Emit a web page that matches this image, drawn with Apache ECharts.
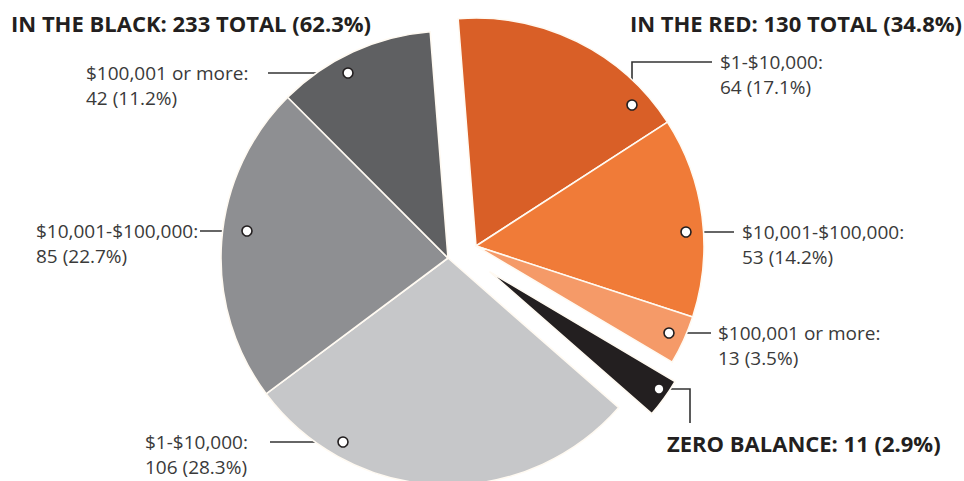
<!DOCTYPE html>
<html><head><meta charset="utf-8">
<script src="https://cdn.jsdelivr.net/npm/echarts@6/dist/echarts.min.js"></script>
<style>html,body{margin:0;padding:0;background:#fff}#c{width:964px;height:481px}</style>
</head><body><div id="c"></div>
<script>
// ---- data ----
const categories = ['$1-$10,000', '$10,001-$100,000', '$100,001 or more', 'ZERO BALANCE', '$1-$10,000', '$10,001-$100,000', '$100,001 or more'];
const sliceGroup = ['red', 'red', 'red', 'zero', 'black', 'black', 'black'];
const values = [64, 53, 13, 11, 106, 85, 42];
const percents = [17.1, 14.2, 3.5, 2.9, 28.3, 22.7, 11.2];
const groupTitles = { black: 'IN THE BLACK', red: 'IN THE RED' };
const groupTotals = { black: 233, red: 130 };
const groupPercents = { black: 62.3, red: 34.8 };

// ---- styles / layout ----
const colors = ['#d95f27', '#f07b38', '#f59a68', '#231f20', '#c6c7c9', '#8e8f92', '#5f6062'];
const groupGeom = {
  black: { center: [448, 258], radius: 227 },
  red: { center: [476, 246], radius: 228 },
  zero: { center: [490, 272], radius: 215 }
};
// label layout: text position, leader points, dot
const labelLayout = [
  { x: 720, y: 62, line: [[712, 62], [632, 62], [632, 100]], dot: [632, 105] },
  { x: 742, y: 232, line: [[734, 232], [691, 232]], dot: [686, 232] },
  { x: 718, y: 333, line: [[711, 333], [674, 333]], dot: [669, 333] },
  { x: 667, y: 443, line: [[664, 389], [690, 389], [690, 423]], dot: [659, 389], bold: true },
  { x: 145, y: 442, line: [[270, 442], [338, 442]], dot: [343, 442] },
  { x: 36, y: 231, line: [[200, 231], [242, 231]], dot: [247, 231] },
  { x: 86, y: 73, line: [[268, 73], [343, 73]], dot: [348, 73] }
];

const fontFamily = '"Open Sans", "Noto Sans", sans-serif';
const textColor = '#3a3a3a';
const labelFont = `400 19px ${fontFamily}`;
const titleFont = `700 22px ${fontFamily}`;

function makeSeries(group) {
  const g = groupGeom[group];
  return {
    type: 'pie',
    silent: true,
    center: g.center,
    radius: [0, g.radius],
    startAngle: 94.5,
    clockwise: true,
    animation: false,
    label: { show: false },
    labelLine: { show: false },
    emphasis: { disabled: true },
    data: values.map((v, i) => {
      const on = sliceGroup[i] === group;
      return {
        value: v,
        name: categories[i],
        itemStyle: on
          ? { color: colors[i], borderColor: '#fffaf2', borderWidth: 1.6 }
          : { color: 'rgba(0,0,0,0)', borderWidth: 0 }
      };
    })
  };
}

const graphics = [];
graphics.push({
  type: 'text', silent: true,
  style: { text: `${groupTitles.black}: ${groupTotals.black} TOTAL (${groupPercents.black}%)`, x: 11, y: 23,
    textVerticalAlign: 'middle', fill: '#231f20', font: titleFont }
});
graphics.push({
  type: 'text', silent: true,
  style: { text: `${groupTitles.red}: ${groupTotals.red} TOTAL (${groupPercents.red}%)`, x: 962, y: 23,
    textAlign: 'right', textVerticalAlign: 'middle', fill: '#231f20', font: titleFont }
});

values.forEach((v, i) => {
  const L = labelLayout[i];
  graphics.push({
    type: 'polyline', silent: true,
    shape: { points: L.line },
    style: { stroke: '#333', lineWidth: 1.6, fill: null }
  });
  graphics.push({
    type: 'circle', silent: true, z: 10,
    shape: { cx: L.dot[0], cy: L.dot[1], r: 5 },
    style: { fill: '#fff', stroke: '#231f20', lineWidth: 1.6 }
  });
  if (L.bold) {
    graphics.push({
      type: 'text', silent: true,
      style: { text: `${categories[i]}: ${v} (${percents[i]}%)`, x: L.x, y: L.y,
        textVerticalAlign: 'middle', fill: '#231f20', font: titleFont }
    });
  } else {
    graphics.push({
      type: 'text', silent: true,
      style: { text: `${categories[i]}:`, x: L.x, y: L.y,
        textVerticalAlign: 'middle', fill: textColor, font: labelFont }
    });
    graphics.push({
      type: 'text', silent: true,
      style: { text: `${v} (${percents[i]}%)`, x: L.x, y: L.y + 25,
        textVerticalAlign: 'middle', fill: textColor, font: labelFont }
    });
  }
});

const chart = echarts.init(document.getElementById('c'), null, { renderer: 'svg' });
chart.setOption({
  backgroundColor: '#ffffff',
  animation: false,
  series: [makeSeries('black'), makeSeries('red'), makeSeries('zero')],
  graphic: { elements: graphics }
});
</script>
</body></html>
